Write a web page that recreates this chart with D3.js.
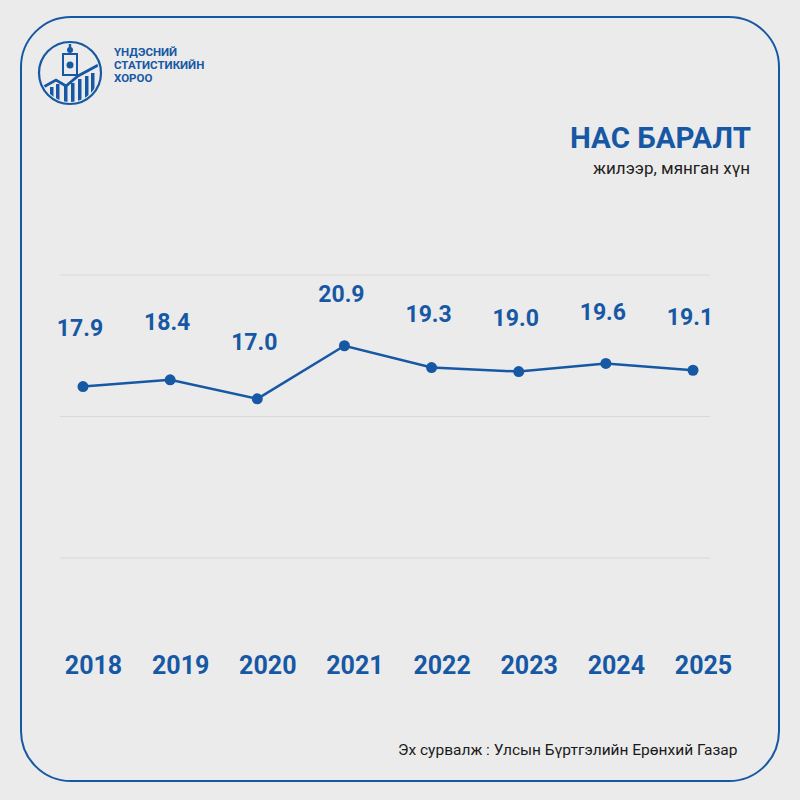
<!DOCTYPE html>
<html><head><meta charset="utf-8">
<script src="https://cdn.jsdelivr.net/npm/d3@7"></script>
<style>
html,body{margin:0;padding:0;background:#ebebeb;}
svg{display:block;font-family:Roboto,"Noto Sans",sans-serif;}
</style></head>
<body><svg id="c" width="800" height="800"></svg>
<script>
const years = ["2018","2019","2020","2021","2022","2023","2024","2025"];
const births = [17.9, 18.4, 17.0, 20.9, 19.3, 19.0, 19.6, 19.1];
const labelLift = [60, 59, 58, 53, 55, 55, 52, 54];
const yDomain = [5.3, 26.1];
const title = "НАС БАРАЛТ";
const subtitle = "жилээр, мянган хүн";
const source = "Эх сурвалж : Улсын Бүртгэлийн Ерөнхий Газар";
const orgLines = ["ҮНДЭСНИЙ", "СТАТИСТИКИЙН", "ХОРОО"];

const blue = "#1758a5";
const svg = d3.select("#c");
svg.append("defs").append("clipPath").attr("id","lc").append("circle").attr("cx",0).attr("cy",0).attr("r",29);
svg.append("rect").attr("width",800).attr("height",800).attr("fill","#ebebeb");
svg.append("rect").attr("x",21).attr("y",17).attr("width",758).attr("height",764)
  .attr("rx",50).attr("ry",50).attr("fill","none").attr("stroke",blue).attr("stroke-width",2);

// logo
const lg = svg.append("g").attr("transform","translate(70,73)");
lg.append("circle").attr("r",31).attr("fill","none").attr("stroke",blue).attr("stroke-width",2.2);
lg.append("rect").attr("x",-7).attr("y",-19).attr("width",14).attr("height",21).attr("fill","none").attr("stroke",blue).attr("stroke-width",2);
lg.append("circle").attr("cx",0).attr("cy",-23).attr("r",3).attr("fill",blue);
lg.append("circle").attr("cx",0).attr("cy",-8).attr("r",3.5).attr("fill",blue);
lg.append("rect").attr("x",-1.2).attr("y",-29).attr("width",2.4).attr("height",4).attr("fill",blue);
const bg = lg.append("g").attr("clip-path","url(#lc)");
const bars = [[-20,14],[-14,11],[-6,13],[1,10],[8,6],[15,3],[21,0]];
bars.forEach(b=>bg.append("rect").attr("x",b[0]).attr("y",b[1]).attr("width",3.5).attr("height",40).attr("fill",blue));
bg.append("path").attr("d","M-30,16 L-14,7 L-4,13 L8,3 L30,-9").attr("fill","none").attr("stroke",blue).attr("stroke-width",2.8);
svg.selectAll("text.org").data(orgLines).join("text").attr("class","org")
  .attr("x",114).attr("y",(d,i)=>56+i*13).attr("font-size",11.5).attr("font-weight",700).attr("fill",blue).text(d=>d);

// titles
svg.append("text").attr("x",751).attr("y",148).attr("text-anchor","end").attr("font-size",29.5).attr("font-weight",700).attr("fill",blue).text(title);
svg.append("text").attr("x",750).attr("y",174).attr("text-anchor","end").attr("font-size",17).attr("fill","#222").text(subtitle);
svg.append("text").attr("x",398).attr("y",755).attr("font-size",15.5).attr("fill","#1a1a1a").text(source);

// chart
const x = d3.scalePoint().domain(years).range([83,693]);
const y = d3.scaleLinear().domain(yDomain).range([558,275]);
const grid = d3.range(3).map(i=>yDomain[0]+i*(yDomain[1]-yDomain[0])/2);
svg.selectAll("line.g").data(grid).join("line").attr("class","g")
  .attr("x1",60).attr("x2",710).attr("y1",d=>y(d)).attr("y2",d=>y(d))
  .attr("stroke","#d9d9d9").attr("stroke-width",1);

const data = years.map((yr,i)=>({yr, v:births[i], lift:labelLift[i]}));
svg.append("path").datum(data).attr("fill","none").attr("stroke",blue).attr("stroke-width",2.5)
  .attr("d",d3.line().x(d=>x(d.yr)).y(d=>y(d.v)));
svg.selectAll("circle.p").data(data).join("circle").attr("class","p")
  .attr("cx",d=>x(d.yr)).attr("cy",d=>y(d.v)).attr("r",5.5).attr("fill",blue);
svg.selectAll("text.v").data(data).join("text").attr("class","v")
  .attr("x",d=>x(d.yr)-3).attr("y",d=>y(d.v)-d.lift+9).attr("text-anchor","middle")
  .attr("font-size",23).attr("font-weight",700).attr("fill",blue).text(d=>d.v.toFixed(1));

const xa = svg.append("g").attr("transform","translate(10,674)").call(d3.axisBottom(x).tickSize(0).tickPadding(0));
xa.select(".domain").remove();
xa.selectAll("text").attr("font-size",25).attr("font-weight",700).attr("fill",blue)
  .attr("font-family","Roboto,sans-serif").attr("dy",0);
</script></body></html>
